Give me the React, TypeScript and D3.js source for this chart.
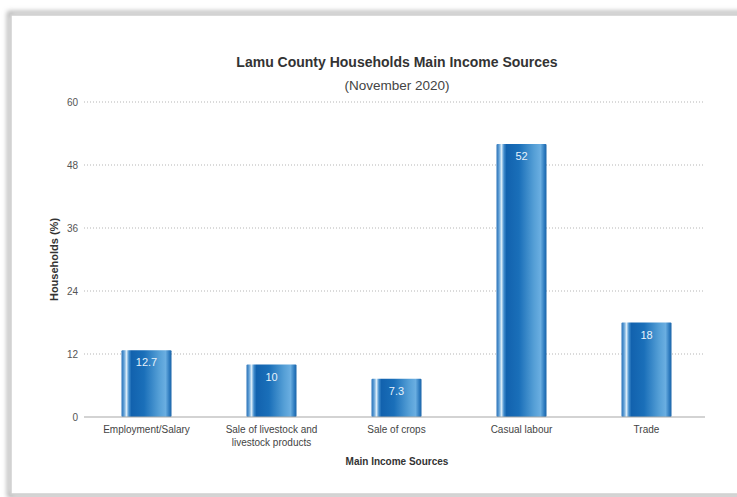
import React from "react";
import * as d3 from "d3";

const categories: string[][] = [
  ["Employment/Salary"],
  ["Sale of livestock and", "livestock products"],
  ["Sale of crops"],
  ["Casual labour"],
  ["Trade"],
];
const values: number[] = [12.7, 10, 7.3, 52, 18];
const valueLabels: string[] = ["12.7", "10", "7.3", "52", "18"];
const yTicks: number[] = [0, 12, 24, 36, 48, 60];
const title = "Lamu County Households Main Income Sources";
const subtitle = "(November 2020)";
const xTitle = "Main Income Sources";
const yTitle = "Households (%)";

const W = 737;
const H = 497;
const font = "'Liberation Sans', Arial, Helvetica, sans-serif";

export default function App() {
  const left = 84;
  const right = 709;
  const top = 102;
  const bottom = 417;
  const x = d3
    .scaleBand<number>()
    .domain(values.map((_, i) => i))
    .range([left, right])
    .paddingInner(0.6)
    .paddingOuter(0.3);
  const y = d3.scaleLinear().domain([0, 60]).range([bottom, top]);
  const bw = 50;

  return (
    <svg
      width={W}
      height={H}
      style={{ position: "absolute", left: 0, top: 0, background: "#fff" }}
    >
      <defs>
        <filter id="sh" x="-5%" y="-5%" width="110%" height="110%">
          <feGaussianBlur stdDeviation="2.5" />
        </filter>
        <linearGradient id="bar" x1="0" x2="1" y1="0" y2="0">
          <stop offset="0" stopColor="#2a72b8" />
          <stop offset="0.05" stopColor="#5f9fd6" />
          <stop offset="0.1" stopColor="#d8ebf8" />
          <stop offset="0.15" stopColor="#3f8bcc" />
          <stop offset="0.2" stopColor="#1262ae" />
          <stop offset="0.45" stopColor="#1a6fb9" />
          <stop offset="0.75" stopColor="#559fd6" />
          <stop offset="0.88" stopColor="#6aaee1" />
          <stop offset="0.96" stopColor="#2c79bd" />
          <stop offset="1" stopColor="#1a64a8" />
        </linearGradient>
      </defs>
      {/* card */}
      <rect x={9} y={13} width={760} height={483} fill="none" stroke="#999" strokeWidth={3} filter="url(#sh)" />
      <rect x={11} y={15} width={760} height={479} fill="#fff" stroke="#cfcfcf" strokeWidth={1.5} />

      <text x={397} y={67} textAnchor="middle" fontFamily={font} fontSize={14} fontWeight="bold" fill="#333">
        {title}
      </text>
      <text x={397} y={90} textAnchor="middle" fontFamily={font} fontSize={13.5} fill="#444">
        {subtitle}
      </text>

      {yTicks.map((t) => (
        <g key={t}>
          {t > 0 && (
            <line
              x1={left}
              x2={705}
              y1={y(t)}
              y2={y(t)}
              stroke="#b5b5b5"
              strokeWidth={1}
              strokeDasharray="1,2"
            />
          )}
          <text
            x={left - 6}
            y={y(t) + 3.5}
            textAnchor="end"
            fontFamily={font}
            fontSize={10}
            fill="#555"
          >
            {t}
          </text>
        </g>
      ))}

      {values.map((v, i) => {
        const cx = (x(i) as number) + x.bandwidth() / 2;
        return (
          <g key={i}>
            <rect
              x={cx - bw / 2}
              y={y(v)}
              width={bw}
              height={bottom - y(v)}
              fill="url(#bar)"
              rx={1}
            />
            <text
              x={cx}
              y={y(v) + 16}
              textAnchor="middle"
              fontFamily={font}
              fontSize={11}
              fill="#e8f2fb"
            >
              {valueLabels[i]}
            </text>
            {categories[i].map((line, j) => (
              <text
                key={j}
                x={cx}
                y={bottom + 16 + j * 13}
                textAnchor="middle"
                fontFamily={font}
                fontSize={10}
                fill="#444"
              >
                {line}
              </text>
            ))}
          </g>
        );
      })}

      <line x1={left} x2={705} y1={bottom} y2={bottom} stroke="#a8a8a8" strokeWidth={1.2} />

      <text x={397} y={465} textAnchor="middle" fontFamily={font} fontSize={10} fontWeight="bold" fill="#333">
        {xTitle}
      </text>
      <text
        transform={`translate(58,${(top + bottom) / 2}) rotate(-90)`}
        textAnchor="middle"
        fontFamily={font}
        fontSize={11}
        fontWeight="bold"
        fill="#333"
      >
        {yTitle}
      </text>
    </svg>
  );
}
